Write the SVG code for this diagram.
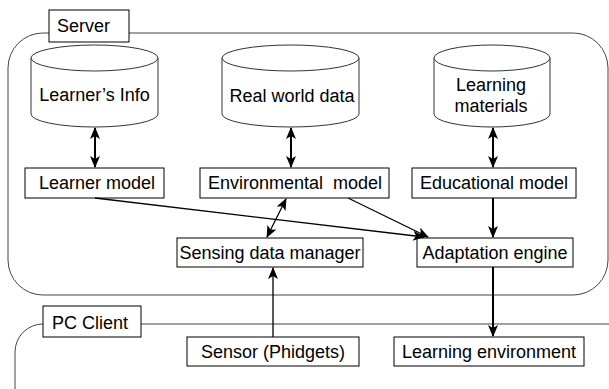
<svg xmlns="http://www.w3.org/2000/svg" width="609" height="389" viewBox="0 0 609 389">
<style>
text{font-family:"Liberation Sans",Arial,sans-serif;font-size:18px;fill:#000}
.box{fill:#fff;stroke:#000;stroke-width:1}
.cyl{fill:#fff;stroke:#333;stroke-width:1}
.outer{fill:none;stroke:#444;stroke-width:1}
.c{fill:none;stroke:#000;stroke-width:2}
.t{fill:none;stroke:#000;stroke-width:1.3}
</style>
<defs>
<marker id="ah" viewBox="0 0 12 10" refX="11" refY="5" markerWidth="12" markerHeight="10" markerUnits="userSpaceOnUse" orient="auto-start-reverse">
<path d="M0,0 L12,5 L0,10 L3,5 z" fill="#000"/>
</marker>
</defs>
<g id="server">
<rect class="outer" x="8" y="33" width="600" height="262" rx="35"/>
<rect class="box" x="49" y="10" width="80" height="32"/>
<text x="57" y="32">Server</text>
</g>
<g id="pcclient">
<rect class="outer" x="15" y="324" width="620" height="120" rx="28"/>
<rect class="box" x="43" y="306" width="98" height="31"/>
<text x="52" y="329">PC Client</text>
</g>
<g id="learners-info">
<path class="cyl" d="M31,58 L31,114 A63.5,13 0 0 0 158,114 L158,58"/>
<ellipse class="cyl" cx="94.5" cy="58" rx="63.5" ry="13"/>
<text x="94.5" y="101" text-anchor="middle">Learner’s Info</text>
</g>
<g id="real-world-data">
<path class="cyl" d="M222,58 L222,114 A68.5,13 0 0 0 359,114 L359,58"/>
<ellipse class="cyl" cx="290.5" cy="58" rx="68.5" ry="13"/>
<text x="292" y="102" text-anchor="middle">Real world data</text>
</g>
<g id="learning-materials">
<path class="cyl" d="M434,58 L434,114 A58,13 0 0 0 550,114 L550,58"/>
<ellipse class="cyl" cx="492" cy="58" rx="58" ry="13"/>
<text x="491" y="91" text-anchor="middle">Learning</text>
<text x="491" y="112" text-anchor="middle">materials</text>
</g>
<g id="learner-model">
<rect class="box" x="25" y="168" width="139" height="30"/>
<text x="97" y="189" text-anchor="middle">Learner model</text>
</g>
<g id="environmental-model">
<rect class="box" x="200" y="168" width="189" height="30"/>
<text x="295" y="189" text-anchor="middle" xml:space="preserve">Environmental  model</text>
</g>
<g id="educational-model">
<rect class="box" x="412" y="168" width="164" height="30"/>
<text x="494" y="189" text-anchor="middle">Educational model</text>
</g>
<g id="sensing-data-manager">
<rect class="box" x="177" y="238" width="186" height="29"/>
<text x="270" y="259" text-anchor="middle">Sensing data manager</text>
</g>
<g id="adaptation-engine">
<rect class="box" x="417" y="238" width="156" height="29"/>
<text x="495" y="259" text-anchor="middle">Adaptation engine</text>
</g>
<g id="sensor">
<rect class="box" x="187" y="337" width="172" height="29"/>
<text x="273" y="358" text-anchor="middle">Sensor (Phidgets)</text>
</g>
<g id="learning-environment">
<rect class="box" x="394" y="337" width="190" height="29"/>
<text x="489" y="358" text-anchor="middle">Learning environment</text>
</g>
<g id="connectors">
<line class="c" x1="95" y1="128" x2="95" y2="167" marker-start="url(#ah)" marker-end="url(#ah)"/>
<line class="c" x1="291" y1="128" x2="291" y2="167" marker-start="url(#ah)" marker-end="url(#ah)"/>
<line class="c" x1="493" y1="128" x2="493" y2="167" marker-start="url(#ah)" marker-end="url(#ah)"/>
<line class="t" x1="286" y1="199" x2="267" y2="237" marker-start="url(#ah)" marker-end="url(#ah)"/>
<line class="t" x1="95" y1="198" x2="424" y2="237" marker-end="url(#ah)"/>
<line class="t" x1="348" y1="198" x2="428" y2="237" marker-end="url(#ah)"/>
<line class="c" x1="493" y1="198" x2="493" y2="237" marker-end="url(#ah)"/>
<line class="t" x1="273" y1="337" x2="273" y2="268" marker-end="url(#ah)"/>
<line class="c" x1="493" y1="267" x2="493" y2="336" marker-end="url(#ah)"/>
</g>
</svg>
